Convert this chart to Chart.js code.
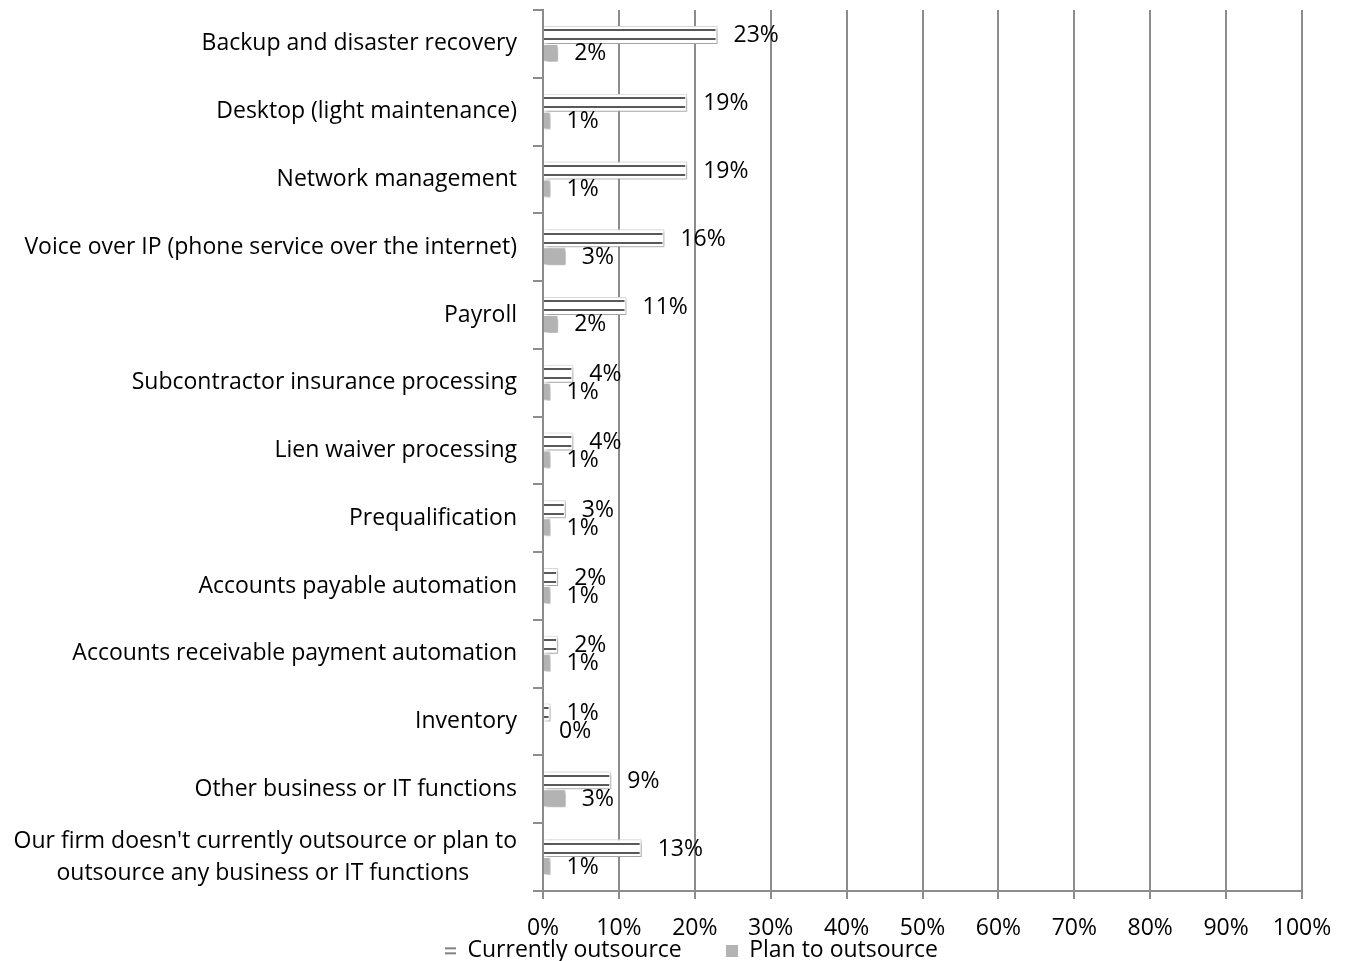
<!DOCTYPE html>
<html lang="en">
<head>
<meta charset="UTF-8">
<title>Outsourcing</title>
<script src="https://cdn.jsdelivr.net/npm/chart.js@4"></script>
<style>
  html, body { margin: 0; padding: 0; background: #fff; }
  #wrap { width: 1349px; height: 961px; }
</style>
</head>
<body>
<div id="wrap"><canvas id="myChart" width="1349" height="961"></canvas></div>
<script>
// Data
const categories = [
    'Backup and disaster recovery',
    'Desktop (light maintenance)',
    'Network management',
    'Voice over IP (phone service over the internet)',
    'Payroll',
    'Subcontractor insurance processing',
    'Lien waiver processing',
    'Prequalification',
    'Accounts payable automation',
    'Accounts receivable payment automation',
    'Inventory',
    'Other business or IT functions',
    ["Our firm doesn't currently outsource or plan to", 'outsource any business or IT functions']
];
const currentlyOutsource = [23, 19, 19, 16, 11, 4, 4, 3, 2, 2, 1, 9, 13];
const planToOutsource = [2, 1, 1, 3, 2, 1, 1, 1, 1, 1, 0, 3, 1];
const seriesNames = ['Currently outsource', 'Plan to outsource'];
const xTicks = [0, 10, 20, 30, 40, 50, 60, 70, 80, 90, 100];

const FONT = '"Open Sans", sans-serif';
const SIZE = 23;
Chart.defaults.font.family = FONT;
Chart.defaults.font.size = SIZE;
Chart.defaults.color = '#000';

// center wrapped category lines (Excel centers them)
const measure = document.createElement('canvas').getContext('2d');
measure.font = SIZE + 'px ' + FONT;
function centerLines(lines) {
    const ws = lines.map(l => measure.measureText(l).width);
    const max = Math.max(...ws);
    const sp = measure.measureText(' ').width;
    return lines.map((l, i) => l + ' '.repeat(Math.round((max - ws[i]) / 2 / sp)));
}

// legend icons
function makeIcon(striped) {
    const c = document.createElement('canvas');
    c.width = 12; c.height = 12;
    const g = c.getContext('2d');
    if (striped) {
        g.fillStyle = '#fff'; g.fillRect(0, 0, 12, 12);
        g.fillStyle = '#595959';
        g.fillRect(1, 3, 11, 1.5);
        g.fillRect(1, 8, 11, 1.5);
    } else {
        g.fillStyle = '#b3b3b3'; g.fillRect(0, 0, 12, 12);
    }
    return c;
}
const icons = [makeIcon(true), makeIcon(false)];

// shadow under bars
const shadowPlugin = {
    id: 'barShadow',
    beforeDatasetDraw(chart) {
        const ctx = chart.ctx;
        ctx.save();
        ctx.shadowColor = 'rgba(0,0,0,0.35)';
        ctx.shadowBlur = 4;
        ctx.shadowOffsetX = 2;
        ctx.shadowOffsetY = 2;
    },
    afterDatasetDraw(chart) {
        chart.ctx.restore();
    }
};

// legend sits right of the canvas centre and tight under the x labels
const legendShift = {
    id: 'legendShift',
    afterLayout(chart) {
        const lg = chart.legend;
        if (lg) {
            lg.left += 40;
            lg.right += 40;
            lg.top -= 10;
            lg.bottom -= 10;
        }
    }
};

// two lines inside "currently" bars + value labels
const stripeLabelPlugin = {
    id: 'stripeLabels',
    afterDatasetsDraw(chart) {
        const ctx = chart.ctx;
        ctx.save();
        ctx.strokeStyle = '#595959';
        ctx.lineWidth = 2;
        chart.getDatasetMeta(0).data.forEach(bar => {
            const p = bar.getProps(['x', 'y', 'base', 'height'], true);
            [-p.height / 4, p.height / 4].forEach(d => {
                ctx.beginPath();
                ctx.moveTo(p.base, Math.round(p.y + d));
                ctx.lineTo(p.x - 2, Math.round(p.y + d));
                ctx.stroke();
            });
        });
        ctx.fillStyle = '#000';
        ctx.font = SIZE + 'px ' + FONT;
        ctx.textAlign = 'left';
        ctx.textBaseline = 'middle';
        chart.data.datasets.forEach((ds, i) => {
            chart.getDatasetMeta(i).data.forEach((bar, j) => {
                const p = bar.getProps(['x', 'y'], true);
                ctx.fillText(ds.data[j] + '%', p.x + 16, p.y + 1);
            });
        });
        ctx.restore();
    }
};

const ctx = document.getElementById('myChart').getContext('2d');
new Chart(ctx, {
    type: 'bar',
    data: {
        labels: categories,
        datasets: [{
            label: seriesNames[0],
            data: currentlyOutsource,
            backgroundColor: '#ffffff',
            borderColor: '#e0e0e0',
            borderWidth: 1
        }, {
            label: seriesNames[1],
            data: planToOutsource,
            backgroundColor: '#b3b3b3',
            borderColor: '#ffffff',
            borderWidth: 1
        }]
    },
    options: {
        indexAxis: 'y',
        responsive: false,
        animation: false,
        categoryPercentage: 0.53,
        barPercentage: 1,
        layout: { padding: { top: 10, right: 47, left: 0, bottom: -21 } },
        scales: {
            x: {
                min: 0,
                max: 100,
                afterBuildTicks: axis => { axis.ticks = xTicks.map(v => ({ value: v })); },
                afterFit: scale => { scale.height = 50; scale.paddingLeft = 0; scale.paddingRight = 0; },
                ticks: { callback: v => v + '%', padding: 16, maxRotation: 0 },
                grid: { color: '#8c8c8c', lineWidth: 2, tickLength: 8 },
                border: { color: '#8c8c8c', width: 2 }
            },
            y: {
                afterFit: scale => { scale.width = 543; scale.paddingTop = 0; scale.paddingBottom = 0; },
                ticks: {
                    padding: 16,
                    font: { lineHeight: 1.4 },
                    callback: function (v) {
                        const l = this.getLabelForValue(v);
                        return Array.isArray(l) ? centerLines(l) : l;
                    }
                },
                grid: { drawOnChartArea: false, color: '#8c8c8c', lineWidth: 2, tickLength: 10, offset: true },
                border: { color: '#8c8c8c', width: 2 }
            }
        },
        plugins: {
            legend: {
                position: 'bottom',
                labels: {
                    usePointStyle: true,
                    pointStyleWidth: 12,
                    boxHeight: 12,
                    padding: 8,
                    font: { lineHeight: 1 },
                    generateLabels: chart => {
                        return Chart.defaults.plugins.legend.labels.generateLabels(chart).map((l, i) => {
                            l.pointStyle = icons[i];
                            if (i === 0) l.text += '      ';
                            return l;
                        });
                    }
                }
            },
            tooltip: { enabled: false }
        }
    },
    plugins: [shadowPlugin, legendShift, stripeLabelPlugin]
});
</script>
</body>
</html>
